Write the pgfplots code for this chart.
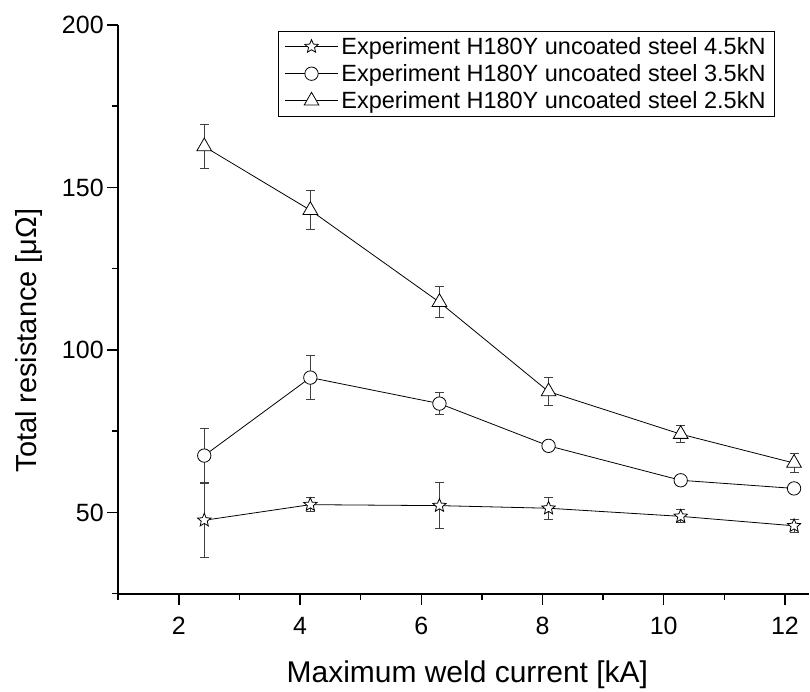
\documentclass[border=0pt]{standalone}
\usepackage{fontspec}
\setmainfont{Liberation Sans}
\usepackage{pgfplots}
\usepackage{pgfplotstable}
\pgfplotsset{compat=1.18}
\pgfdeclareplotmark{ostar}{%
  \pgfpathmoveto{\pgfpointpolar{90}{\pgfplotmarksize}}%
  \pgfpathlineto{\pgfpointpolar{126}{0.45\pgfplotmarksize}}%
  \pgfpathlineto{\pgfpointpolar{162}{\pgfplotmarksize}}%
  \pgfpathlineto{\pgfpointpolar{198}{0.45\pgfplotmarksize}}%
  \pgfpathlineto{\pgfpointpolar{234}{\pgfplotmarksize}}%
  \pgfpathlineto{\pgfpointpolar{270}{0.45\pgfplotmarksize}}%
  \pgfpathlineto{\pgfpointpolar{306}{\pgfplotmarksize}}%
  \pgfpathlineto{\pgfpointpolar{342}{0.45\pgfplotmarksize}}%
  \pgfpathlineto{\pgfpointpolar{18}{\pgfplotmarksize}}%
  \pgfpathlineto{\pgfpointpolar{54}{0.45\pgfplotmarksize}}%
  \pgfpathclose
  \pgfusepathqfillstroke
}
\pgfplotstableread{
x y e
2.42 47.6 11.5
4.17 52.4 2.2
6.30 52.1 7.0
8.10 51.3 3.4
10.28 48.8 2.0
12.15 45.9 2.0
}\starA
\pgfplotstableread{
x y e
2.42 67.5 8.5
4.17 91.5 6.7
6.30 83.5 3.3
8.10 70.5 1.5
10.28 59.9 1.5
12.15 57.4 1.5
}\circB
\pgfplotstableread{
x y e
2.42 162.6 6.7
4.17 143.0 6.0
6.30 114.7 4.8
8.10 87.2 4.3
10.28 74.1 2.6
12.15 65.2 2.9
}\triC
\begin{document}
\begin{tikzpicture}
\begin{axis}[
  scale only axis, width=691.7pt, height=569.3pt,
  xmin=1, xmax=12.4, ymin=25, ymax=200,
  axis lines*=left, axis line style={line width=1.6pt,-},
  xtick={2,4,...,12}, minor xtick={1,3,...,11},
  ytick={50,100,150,200}, minor ytick={25,75,125,175},
  tick align=outside, major tick length=11pt, minor tick length=6pt,
  every tick/.style={line width=1.5pt, black},
  tick label style={font=\fontsize{25}{28}\selectfont},
  xticklabel style={yshift=-9pt},
  /pgf/number format/assume math mode=true,
  xlabel={Maximum weld current [kA]}, ylabel={Total resistance [μΩ]},
  xlabel style={font=\fontsize{30}{33}\selectfont, at={(axis description cs:0.5053,-0.1558)}, anchor=base},
  ylabel style={font=\fontsize{29}{32}\selectfont, at={(axis description cs:-0.1175,0.445)}, anchor=base},
  legend style={at={(rel axis cs:0.9504,0.990)}, anchor=north east, draw=black, line width=0.8pt,
    font=\fontsize{23.5}{26}\selectfont, nodes={inner xsep=3pt, inner ysep=4.3pt}, row sep=0pt,
    inner xsep=6pt, inner ysep=2pt},
  legend cell align=left,
  legend image code/.code={\draw[mark repeat=2,mark phase=2,#1] plot coordinates {(0pt,0pt) (26.5pt,0pt) (53pt,0pt)};},
  every axis plot/.append style={black, line width=0.8pt},
  error bars/y dir=both, error bars/y explicit,
  error bars/error bar style={line width=0.8pt, black!75},
  error bars/error mark options={rotate=90, mark size=4.5pt, line width=0.8pt, black!75},
]
\addplot[mark=ostar, mark size=7pt, mark options={fill=white, draw=black, solid}] table[x=x, y=y, y error=e] {\starA};
\addlegendentry{Experiment H180Y uncoated steel 4.5kN}
\addplot[mark=*, mark size=6.7pt, mark options={fill=white, draw=black, solid}] table[x=x, y=y, y error=e] {\circB};
\addlegendentry{Experiment H180Y uncoated steel 3.5kN}
\addplot[mark=triangle*, mark size=8.5pt, mark options={fill=white, draw=black, solid}] table[x=x, y=y, y error=e] {\triC};
\addlegendentry{Experiment H180Y uncoated steel 2.5kN}
\end{axis}
\path ([shift={(-118.3pt,-91.7pt)}]current axis.south west) rectangle ([shift={(0pt,25pt)}]current axis.north east);
\end{tikzpicture}
\end{document}
